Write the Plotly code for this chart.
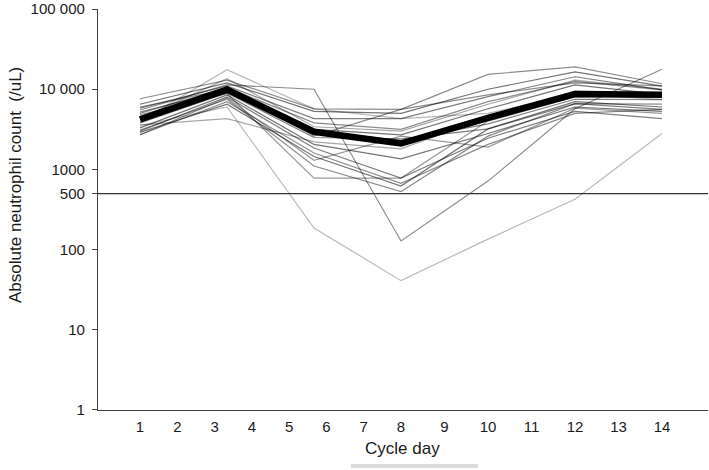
import plotly.graph_objects as go

# sampling days (data columns) and axis labels
sample_days = ["1", "3", "6", "8", "10", "12", "14"]
label_days = list(range(1, 15))

# individual patient ANC values (/uL) at each sampling day
patients = [
    [5500, 11300, 10000, 128, 715, 5700, 17700],
    [3500, 6000, 186, 41, 135, 425, 2800],
    [7600, 13000, 5700, 5600, 15300, 19000, 11700],
    [6500, 12000, 5300, 5000, 10000, 16400, 10900],
    [5800, 11000, 4300, 4300, 8100, 14300, 9800],
    [5000, 10500, 3800, 3150, 7000, 12500, 9800],
    [4500, 9500, 3150, 2700, 5700, 11300, 8600],
    [4000, 17500, 5700, 4300, 5000, 8800, 7400],
    [3800, 9000, 2500, 2400, 3200, 6600, 5600],
    [3300, 8500, 2050, 1350, 2800, 6000, 5300],
    [3000, 8000, 1850, 780, 2450, 5300, 4300],
    [2700, 7000, 1600, 670, 2050, 5000, 5600],
    [2900, 6500, 1450, 620, 3200, 7000, 6000],
    [3100, 7500, 1100, 530, 2600, 6600, 6500],
    [4800, 8800, 780, 780, 4000, 8000, 8000],
    [6000, 10000, 2600, 5600, 8500, 12000, 11000],
    [4300, 13500, 3400, 3000, 6500, 13000, 10000],
    [3600, 4300, 2200, 1800, 4500, 9500, 9000],
    [5200, 9800, 3000, 2300, 3700, 7500, 7400],
    [2700, 7800, 1300, 2600, 1900, 5800, 5000],
]
patient_opacity = [0.45, 0.28, 0.45, 0.55, 0.5, 0.45, 0.55, 0.28, 0.5, 0.55,
                   0.5, 0.45, 0.55, 0.45, 0.4, 0.45, 0.35, 0.35, 0.5, 0.4]

# mean curve
mean_values = [4200, 9900, 2950, 2100, 4400, 8700, 8500]

y_tickvals = [1, 10, 100, 500, 1000, 10000, 100000]
y_ticktext = ["1", "10", "100", "500", "1000", "10 000", "100 000"]
threshold = 500

# label positions on the evenly spaced sampling grid (piecewise: days 1-8 and 8-14)
def label_pos(d):
    return (d - 1) * 3 / 7 if d <= 8 else 3 + (d - 8) * 0.5

xr = [-0.483, 6.529]
FONT = "Liberation Sans, Arial, sans-serif"
TXT = "#1a1a1a"
AX = "#404040"
T, B = 9, 60          # plot top / bottom margins (px)
PH = 470 - T - B      # plot height

fig = go.Figure()
for vals, op in zip(patients, patient_opacity):
    fig.add_trace(go.Scatter(x=sample_days, y=vals, mode="lines",
                             line=dict(color=f"rgba(0,0,0,{op})", width=1.2),
                             hoverinfo="skip", showlegend=False))
fig.add_trace(go.Scatter(x=sample_days, y=mean_values, mode="lines",
                         line=dict(color="black", width=6.5),
                         showlegend=False))
# invisible trace to carry the labelled axis
fig.add_trace(go.Scatter(x=[None], y=[None], xaxis="x2", yaxis="y",
                         showlegend=False, hoverinfo="skip"))

fig.update_layout(
    width=709, height=470,
    margin=dict(l=98, r=1, t=T, b=B, autoexpand=False),
    paper_bgcolor="white", plot_bgcolor="white",
    font=dict(family=FONT, color=TXT, size=15),
    xaxis=dict(type="category", categoryorder="array", categoryarray=sample_days,
               range=xr, showticklabels=False, ticks="", showgrid=False,
               zeroline=False, showline=True, linecolor=AX, linewidth=1.3,
               automargin=False),
    xaxis2=dict(overlaying="x", anchor="y", side="bottom", range=xr,
                tickvals=[label_pos(d) for d in label_days],
                ticktext=[str(d) for d in label_days],
                ticks="", showgrid=False, zeroline=False, showline=False,
                tickfont=dict(size=15, color=TXT, family=FONT),
                ticklabelstandoff=6, automargin=False),
    yaxis=dict(type="log", range=[-0.0002, 5.0002], tickvals=y_tickvals, ticktext=y_ticktext,
               ticks="outside", ticklen=5, tickcolor=AX, tickwidth=1.2,
               showline=True, linecolor=AX, linewidth=1.3, showgrid=False,
               zeroline=False, tickfont=dict(size=15, color=TXT, family=FONT),
               ticklabelstandoff=4, automargin=False, ticklabeloverflow="allow"),
    shapes=[
        dict(type="line", xref="paper", yref="y", x0=0, x1=1, y0=threshold, y1=threshold,
             line=dict(color="#333333", width=1.3)),
        dict(type="line", xref="x", yref="paper", x0="8", x1="8", y0=0, y1=1,
             line=dict(color="#444444", width=1.6, dash="4px,3px")),
        dict(type="rect", xref="paper", yref="paper", x0=(351 - 98) / 610, x1=(478 - 98) / 610,
             y0=(410 - 468) / PH, y1=(410 - 464) / PH,
             line=dict(width=0), fillcolor="#dcdcdc"),
    ],
    annotations=[
        dict(text="Absolute neutrophil count  (/uL)", textangle=-90, xref="paper", yref="paper",
             x=(15 - 98) / 610, y=(410 - 185) / PH, xanchor="center", yanchor="middle",
             showarrow=False, font=dict(size=17, color=TXT, family=FONT)),
        dict(text="Cycle day", xref="paper", yref="paper",
             x=(402 - 98) / 610, y=(410 - 448) / PH, xanchor="center", yanchor="middle",
             showarrow=False, font=dict(size=17, color=TXT, family=FONT)),
    ],
)

fig.write_html("out.html", config={"displayModeBar": False},
               post_script="document.body.style.margin='0';document.body.style.overflow='hidden';")
